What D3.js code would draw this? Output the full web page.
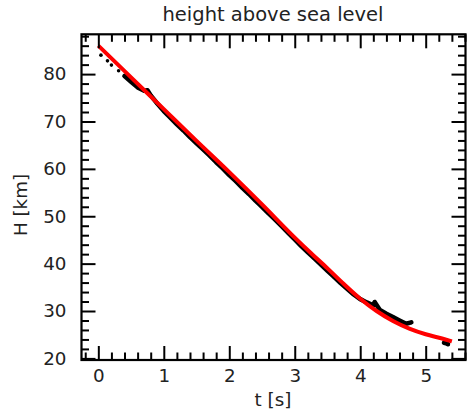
<!DOCTYPE html>
<html><head><meta charset="utf-8">
<script src="https://cdn.jsdelivr.net/npm/d3@7"></script>
<style>body{margin:0;background:#fff}svg{display:block}text{font-family:"DejaVu Sans",sans-serif;fill:#222}</style>
</head><body>
<script>
// Data
const titleText = "height above sea level";
const xLabel = "t [s]";
const yLabel = "H [km]";
const xTicks = [0, 1, 2, 3, 4, 5];
const yTicks = [20, 30, 40, 50, 60, 70, 80];
// fitted curve (red)
const fitT = [0, 0.5, 1.0, 1.5, 2.0, 2.5, 3.0, 3.25, 3.5, 3.75, 4.0, 4.25, 4.5, 4.75, 5.0, 5.25, 5.4];
const fitH = [86.0, 79.3, 72.6, 65.9, 59.3, 52.5, 45.5, 42.2, 39.0, 35.7, 32.6, 30.0, 27.9, 26.3, 25.1, 24.2, 23.6];
// measured points (black)
const measT = [0.04, 0.14, 0.2, 0.31,
  0.4, 0.5, 0.6, 0.7, 0.75, 0.8, 0.9, 1.0, 1.1, 1.2, 1.3, 1.4, 1.5, 1.6, 1.7, 1.8, 1.9,
  2.0, 2.1, 2.2, 2.3, 2.4, 2.5, 2.6, 2.7, 2.8, 2.9, 3.0, 3.1, 3.2, 3.3, 3.4, 3.5, 3.6,
  3.7, 3.8, 3.9, 4.0, 4.1, 4.2, 4.22, 4.3, 4.4, 4.5, 4.6, 4.7, 4.78,
  5.28, 5.31, 5.34];
const measH = [84.0, 82.8, 81.9, 80.7,
  79.6, 78.4, 77.2, 76.5, 76.6, 75.5, 73.8, 72.2, 70.8, 69.4, 68.1, 66.7, 65.4, 64.1, 62.8, 61.4, 60.1,
  58.7, 57.4, 56.0, 54.7, 53.3, 52.0, 50.6, 49.3, 47.9, 46.5, 45.1, 43.7, 42.4, 41.1, 39.8, 38.5, 37.2,
  35.9, 34.7, 33.5, 32.5, 31.8, 31.2, 31.9, 30.2, 29.4, 28.7, 28.0, 27.3, 27.6,
  23.3, 23.2, 23.0];
const measSeg = [0, 0, 0, 0,
  1, 1, 1, 1, 1, 1, 1, 1, 1, 1, 1, 1, 1, 1, 1, 1, 1,
  1, 1, 1, 1, 1, 1, 1, 1, 1, 1, 1, 1, 1, 1, 1, 1, 1,
  1, 1, 1, 1, 1, 1, 1, 1, 1, 1, 1, 1, 1,
  2, 2, 2];

const W = 467, H = 413;
const m = {left: 81.5, right: 465.5, top: 34.3, bottom: 360};
const svg = d3.select("body").append("svg").attr("width", W).attr("height", H);
const x = d3.scaleLinear().domain([-0.257, 5.608]).range([m.left, m.right]);
const y = d3.scaleLinear().domain([19.66, 88.4]).range([m.bottom, m.top]);

const plot = svg.append("g");
plot.append("clipPath").attr("id", "clip").append("rect")
  .attr("x", m.left).attr("y", m.top).attr("width", m.right - m.left).attr("height", m.bottom - m.top);
const data = plot.append("g").attr("clip-path", "url(#clip)");

// black measured trace
const meas = measT.map((t, i) => ({t, h: measH[i], s: measSeg[i]}));
const lineG = d3.line().x(d => x(d.t)).y(d => y(d.h));
[1, 2].forEach(s => {
  data.append("path").datum(meas.filter(d => d.s === s))
    .attr("d", lineG).attr("fill", "none").attr("stroke", "#000").attr("stroke-width", 4.6)
    .attr("stroke-linecap", "round").attr("stroke-linejoin", "round");
});
data.selectAll("circle.m").data(meas).join("circle").attr("class", "m")
  .attr("cx", d => x(d.t)).attr("cy", d => y(d.h)).attr("r", 1.8).attr("fill", "#000");

// red fit
const fit = fitT.map((t, i) => ({t, h: fitH[i]}));
data.append("path").datum(fit)
  .attr("d", d3.line().x(d => x(d.t)).y(d => y(d.h)).curve(d3.curveMonotoneX))
  .attr("fill", "none").attr("stroke", "#ff0000").attr("stroke-width", 4);

// axes with inward ticks on all sides
const xMinor = d3.range(-0.2, 5.61, 0.2).filter(v => Math.abs(v - Math.round(v)) > 0.01);
const yMinor = d3.range(22, 88.4, 2).filter(v => v % 10 !== 0);
function styleAxis(g) {
  g.select(".domain").remove();
  g.selectAll(".tick line").attr("stroke", "#000").attr("stroke-width", 2);
  g.selectAll(".tick text").attr("font-size", "18.3px").attr("fill", "#222");
}
svg.append("g").attr("transform", `translate(0,${m.bottom})`)
  .call(d3.axisBottom(x).tickValues(xTicks).tickSize(-14).tickPadding(9).tickFormat(d3.format("d")))
  .call(styleAxis);
svg.append("g").attr("transform", `translate(0,${m.bottom})`)
  .call(d3.axisBottom(x).tickValues(xMinor).tickSize(-7.5).tickFormat(""))
  .call(styleAxis);
svg.append("g").attr("transform", `translate(0,${m.top})`)
  .call(d3.axisTop(x).tickValues(xTicks).tickSize(-14).tickFormat(""))
  .call(styleAxis);
svg.append("g").attr("transform", `translate(0,${m.top})`)
  .call(d3.axisTop(x).tickValues(xMinor).tickSize(-7.5).tickFormat(""))
  .call(styleAxis);
svg.append("g").attr("transform", `translate(${m.left},0)`)
  .call(d3.axisLeft(y).tickValues(yTicks).tickSize(-14).tickPadding(15).tickFormat(d3.format("d")))
  .call(styleAxis);
svg.append("g").attr("transform", `translate(${m.left},0)`)
  .call(d3.axisLeft(y).tickValues(yMinor).tickSize(-7.5).tickFormat(""))
  .call(styleAxis);
svg.append("g").attr("transform", `translate(${m.right},0)`)
  .call(d3.axisRight(y).tickValues(yTicks).tickSize(-14).tickFormat(""))
  .call(styleAxis);
svg.append("g").attr("transform", `translate(${m.right},0)`)
  .call(d3.axisRight(y).tickValues(yMinor).tickSize(-7.5).tickFormat(""))
  .call(styleAxis);

// frame
svg.append("rect").attr("x", m.left).attr("y", m.top)
  .attr("width", m.right - m.left).attr("height", m.bottom - m.top)
  .attr("fill", "none").attr("stroke", "#000").attr("stroke-width", 2.2);

// labels
svg.append("text").attr("x", 273).attr("y", 21).attr("text-anchor", "middle")
  .attr("font-size", "19.5px").text(titleText);
svg.append("text").attr("x", 273).attr("y", 406).attr("text-anchor", "middle")
  .attr("font-size", "18.3px").text(xLabel);
svg.append("text").attr("transform", `translate(27,205) rotate(-90)`)
  .attr("text-anchor", "middle").attr("font-size", "18.3px").text(yLabel);
</script>
</body></html>
